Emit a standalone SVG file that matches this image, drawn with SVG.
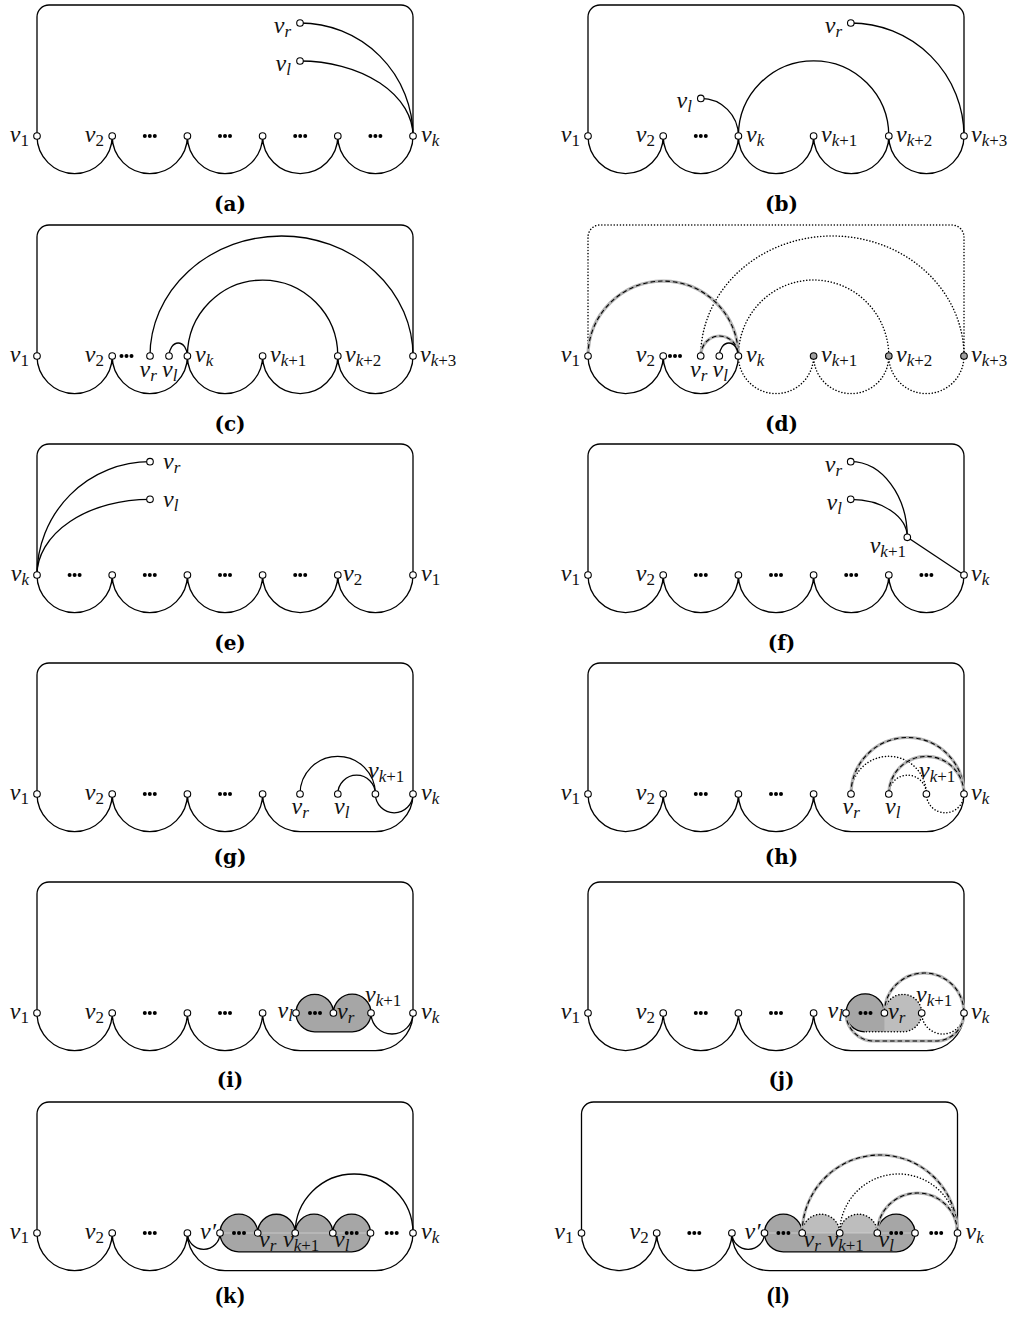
<svg xmlns="http://www.w3.org/2000/svg" width="1016" height="1319" viewBox="0 0 1016 1319">
<style>
.e{fill:none;stroke:#000;stroke-width:1.3}
.d{fill:none;stroke:#000;stroke-width:1.5;stroke-dasharray:0.1 3;stroke-linecap:round}
.gb{fill:none;stroke:#b2b2b2;stroke-width:3.2}
.gd{fill:none;stroke:#000;stroke-width:1.1;stroke-dasharray:4.5 3}
.n{fill:#fff;stroke:#000;stroke-width:1.1}
.ng{fill:#a0a0a0;stroke:#000;stroke-width:1.1}
.t{font-family:"Liberation Serif",serif;font-style:italic;font-size:24px;fill:#111}
.s{font-size:17px}
.u{font-style:normal}
.cap{font-family:"DejaVu Serif",serif;font-weight:bold;font-size:20px;text-anchor:middle}
.cap2{font-family:"Liberation Serif",serif;font-weight:bold;font-size:24px;text-anchor:middle}
.dk{fill:#a6a6a6;stroke:none}
.lt{fill:#bdbdbd;stroke:none}
</style>
<defs>
<g id="dots"><circle cx="-5" cy="0" r="2"/><circle cx="0" cy="0" r="2"/><circle cx="5" cy="0" r="2"/></g>
</defs>
<rect width="1016" height="1319" fill="#fff"/>

<!-- (a) -->
<g id="panel-a">
<g id="a-edges" class="e">
<path d="M37,136V17A12,12 0 0 1 49,5H401A12,12 0 0 1 413,17V136"/>
<path d="M37,136A37.6,37.6 0 0 0 112.2,136A37.6,37.6 0 0 0 187.4,136A37.6,37.6 0 0 0 262.6,136A37.6,37.6 0 0 0 337.8,136A37.6,37.6 0 0 0 413,136"/>
<path d="M300,23A113,113 0 0 1 413,136"/>
<path d="M300,61A113,75 0 0 1 413,136"/>
</g>
<g id="a-dots"><use href="#dots" x="149.8" y="136"/><use href="#dots" x="225" y="136"/><use href="#dots" x="300.2" y="136"/><use href="#dots" x="375.4" y="136"/></g>
<g id="a-v1"><circle class="n" cx="37" cy="136" r="3.3"/><text class="t" x="29" y="142" text-anchor="end">v<tspan class="s u" dy="4">1</tspan></text></g>
<g id="a-v2"><circle class="n" cx="112.2" cy="136" r="3.3"/><text class="t" x="104" y="142" text-anchor="end">v<tspan class="s u" dy="4">2</tspan></text></g>
<g id="a-n3"><circle class="n" cx="187.4" cy="136" r="3.3"/></g>
<g id="a-n4"><circle class="n" cx="262.6" cy="136" r="3.3"/></g>
<g id="a-n5"><circle class="n" cx="337.8" cy="136" r="3.3"/></g>
<g id="a-vk"><circle class="n" cx="413" cy="136" r="3.3"/><text class="t" x="421" y="142">v<tspan class="s" dy="4">k</tspan></text></g>
<g id="a-vr"><circle class="n" cx="300" cy="23" r="3.3"/><text class="t" x="291" y="33" text-anchor="end">v<tspan class="s" dy="4">r</tspan></text></g>
<g id="a-vl"><circle class="n" cx="300" cy="61" r="3.3"/><text class="t" x="291" y="71" text-anchor="end">v<tspan class="s" dy="4">l</tspan></text></g>
<text class="cap" x="230" y="211">(a)</text>
</g>

<!-- (b) -->
<g id="panel-b">
<g id="b-edges" class="e">
<path d="M588,136V17A12,12 0 0 1 600,5H952A12,12 0 0 1 964,17V136"/>
<path d="M588,136A37.6,37.6 0 0 0 663.2,136A37.6,37.6 0 0 0 738.4,136A37.6,37.6 0 0 0 813.6,136A37.6,37.6 0 0 0 888.8,136A37.6,37.6 0 0 0 964,136"/>
<path d="M738.4,136A75.2,75.2 0 0 1 888.8,136"/>
<path d="M700.8,98.4A37.6,37.6 0 0 1 738.4,136"/>
<path d="M850.8,23A113.2,113 0 0 1 964,136"/>
</g>
<g id="b-dots"><use href="#dots" x="700.8" y="136"/></g>
<g id="b-v1"><circle class="n" cx="588" cy="136" r="3.3"/><text class="t" x="580" y="142" text-anchor="end">v<tspan class="s u" dy="4">1</tspan></text></g>
<g id="b-v2"><circle class="n" cx="663.2" cy="136" r="3.3"/><text class="t" x="655" y="142" text-anchor="end">v<tspan class="s u" dy="4">2</tspan></text></g>
<g id="b-vk"><circle class="n" cx="738.4" cy="136" r="3.3"/><text class="t" x="746" y="142">v<tspan class="s" dy="4">k</tspan></text></g>
<g id="b-vk1"><circle class="n" cx="813.6" cy="136" r="3.3"/><text class="t" x="821" y="142">v<tspan class="s" dy="4">k</tspan><tspan class="s u">+1</tspan></text></g>
<g id="b-vk2"><circle class="n" cx="888.8" cy="136" r="3.3"/><text class="t" x="896" y="142">v<tspan class="s" dy="4">k</tspan><tspan class="s u">+2</tspan></text></g>
<g id="b-vk3"><circle class="n" cx="964" cy="136" r="3.3"/><text class="t" x="971" y="142">v<tspan class="s" dy="4">k</tspan><tspan class="s u">+3</tspan></text></g>
<g id="b-vl"><circle class="n" cx="700.8" cy="98.4" r="3.3"/><text class="t" x="692" y="108" text-anchor="end">v<tspan class="s" dy="4">l</tspan></text></g>
<g id="b-vr"><circle class="n" cx="850.8" cy="23" r="3.3"/><text class="t" x="842" y="33" text-anchor="end">v<tspan class="s" dy="4">r</tspan></text></g>
<text class="cap" x="781.5" y="211">(b)</text>
</g>

<!-- (c) -->
<g id="panel-c">
<g id="c-edges" class="e">
<path d="M37,356V237A12,12 0 0 1 49,225H401A12,12 0 0 1 413,237V356"/>
<path d="M37,356A37.6,37.6 0 0 0 112.2,356A37.6,37.6 0 0 0 187.4,356A37.6,37.6 0 0 0 262.6,356A37.6,37.6 0 0 0 337.8,356A37.6,37.6 0 0 0 413,356"/>
<path d="M150,356A131.5,120 0 0 1 413,356"/>
<path d="M187.4,356A75.2,76 0 0 1 337.8,356"/>
<path d="M169,356A9.2,13 0 0 1 187.4,356"/>
</g>
<g id="c-dots"><use href="#dots" x="126.5" y="356"/></g>
<g id="c-v1"><circle class="n" cx="37" cy="356" r="3.3"/><text class="t" x="29" y="362" text-anchor="end">v<tspan class="s u" dy="4">1</tspan></text></g>
<g id="c-v2"><circle class="n" cx="112.2" cy="356" r="3.3"/><text class="t" x="104" y="362" text-anchor="end">v<tspan class="s u" dy="4">2</tspan></text></g>
<g id="c-vr"><circle class="n" cx="150" cy="356" r="3.3"/><text class="t" x="139.5" y="377">v<tspan class="s" dy="4">r</tspan></text></g>
<g id="c-vl"><circle class="n" cx="169" cy="356" r="3.3"/><text class="t" x="162" y="377">v<tspan class="s" dy="4">l</tspan></text></g>
<g id="c-vk"><circle class="n" cx="187.4" cy="356" r="3.3"/><text class="t" x="195" y="362">v<tspan class="s" dy="4">k</tspan></text></g>
<g id="c-vk1"><circle class="n" cx="262.6" cy="356" r="3.3"/><text class="t" x="270" y="362">v<tspan class="s" dy="4">k</tspan><tspan class="s u">+1</tspan></text></g>
<g id="c-vk2"><circle class="n" cx="337.8" cy="356" r="3.3"/><text class="t" x="345" y="362">v<tspan class="s" dy="4">k</tspan><tspan class="s u">+2</tspan></text></g>
<g id="c-vk3"><circle class="n" cx="413" cy="356" r="3.3"/><text class="t" x="420" y="362">v<tspan class="s" dy="4">k</tspan><tspan class="s u">+3</tspan></text></g>
<text class="cap" x="230" y="431">(c)</text>
</g>

<!-- (d) -->
<g id="panel-d">
<g id="d-edges">
<path class="d" d="M588,356V237A12,12 0 0 1 600,225H952A12,12 0 0 1 964,237V356"/>
<path class="e" d="M588,356A37.6,37.6 0 0 0 663.2,356A37.6,37.6 0 0 0 738.4,356"/>
<path class="d" d="M738.4,356A37.6,37.6 0 0 0 813.6,356A37.6,37.6 0 0 0 888.8,356A37.6,37.6 0 0 0 964,356"/>
<path class="d" d="M700.7,356A131.65,120 0 0 1 964,356"/>
<path class="d" d="M738.4,356A75.2,76 0 0 1 888.8,356"/>
<path class="gb" d="M588,356A75.2,75 0 0 1 738.4,356"/>
<path class="gd" d="M588,356A75.2,75 0 0 1 738.4,356"/>
<path class="gb" d="M700.7,356A18.85,20 0 0 1 738.4,356"/>
<path class="gd" d="M700.7,356A18.85,20 0 0 1 738.4,356"/>
<path class="e" d="M719.3,356A9.55,13 0 0 1 738.4,356"/>
</g>
<g id="d-dots"><use href="#dots" x="675" y="356"/></g>
<g id="d-v1"><circle class="n" cx="588" cy="356" r="3.3"/><text class="t" x="580" y="362" text-anchor="end">v<tspan class="s u" dy="4">1</tspan></text></g>
<g id="d-v2"><circle class="n" cx="663.2" cy="356" r="3.3"/><text class="t" x="655" y="362" text-anchor="end">v<tspan class="s u" dy="4">2</tspan></text></g>
<g id="d-vr"><circle class="n" cx="700.7" cy="356" r="3.3"/><text class="t" x="690" y="377">v<tspan class="s" dy="4">r</tspan></text></g>
<g id="d-vl"><circle class="n" cx="719.3" cy="356" r="3.3"/><text class="t" x="712.5" y="377">v<tspan class="s" dy="4">l</tspan></text></g>
<g id="d-vk"><circle class="n" cx="738.4" cy="356" r="3.3"/><text class="t" x="746" y="362">v<tspan class="s" dy="4">k</tspan></text></g>
<g id="d-vk1"><circle class="ng" cx="813.6" cy="356" r="3.3"/><text class="t" x="821" y="362">v<tspan class="s" dy="4">k</tspan><tspan class="s u">+1</tspan></text></g>
<g id="d-vk2"><circle class="ng" cx="888.8" cy="356" r="3.3"/><text class="t" x="896" y="362">v<tspan class="s" dy="4">k</tspan><tspan class="s u">+2</tspan></text></g>
<g id="d-vk3"><circle class="ng" cx="964" cy="356" r="3.3"/><text class="t" x="971" y="362">v<tspan class="s" dy="4">k</tspan><tspan class="s u">+3</tspan></text></g>
<text class="cap" x="781.5" y="431">(d)</text>
</g>

<!-- (e) -->
<g id="panel-e">
<g id="e-edges" class="e">
<path d="M37,575V456A12,12 0 0 1 49,444H401A12,12 0 0 1 413,456V575"/>
<path d="M37,575A37.6,37.6 0 0 0 112.2,575A37.6,37.6 0 0 0 187.4,575A37.6,37.6 0 0 0 262.6,575A37.6,37.6 0 0 0 337.8,575A37.6,37.6 0 0 0 413,575"/>
<path d="M37,575A113,113.3 0 0 1 150,461.7"/>
<path d="M37,575A113,75.7 0 0 1 150,499.3"/>
</g>
<g id="e-dots"><use href="#dots" x="74.6" y="575"/><use href="#dots" x="149.8" y="575"/><use href="#dots" x="225" y="575"/><use href="#dots" x="300.2" y="575"/></g>
<g id="e-vk"><circle class="n" cx="37" cy="575" r="3.3"/><text class="t" x="29" y="581" text-anchor="end">v<tspan class="s" dy="4">k</tspan></text></g>
<g id="e-n2"><circle class="n" cx="112.2" cy="575" r="3.3"/></g>
<g id="e-n3"><circle class="n" cx="187.4" cy="575" r="3.3"/></g>
<g id="e-n4"><circle class="n" cx="262.6" cy="575" r="3.3"/></g>
<g id="e-v2"><circle class="n" cx="337.8" cy="575" r="3.3"/><text class="t" x="343" y="581">v<tspan class="s u" dy="4">2</tspan></text></g>
<g id="e-v1"><circle class="n" cx="413" cy="575" r="3.3"/><text class="t" x="421" y="581">v<tspan class="s u" dy="4">1</tspan></text></g>
<g id="e-vr"><circle class="n" cx="150" cy="461.7" r="3.3"/><text class="t" x="163" y="469">v<tspan class="s" dy="4">r</tspan></text></g>
<g id="e-vl"><circle class="n" cx="150" cy="499.3" r="3.3"/><text class="t" x="163" y="507">v<tspan class="s" dy="4">l</tspan></text></g>
<text class="cap" x="230" y="650">(e)</text>
</g>

<!-- (f) -->
<g id="panel-f">
<g id="f-edges" class="e">
<path d="M588,575V456A12,12 0 0 1 600,444H952A12,12 0 0 1 964,456V575"/>
<path d="M588,575A37.6,37.6 0 0 0 663.2,575A37.6,37.6 0 0 0 738.4,575A37.6,37.6 0 0 0 813.6,575A37.6,37.6 0 0 0 888.8,575A37.6,37.6 0 0 0 964,575"/>
<path d="M850.7,461.7A56.6,75.6 0 0 1 907.3,537.3"/>
<path d="M850.7,499.3A56.6,38 0 0 1 907.3,537.3"/>
<path d="M907.3,537.3L964,575"/>
</g>
<g id="f-dots"><use href="#dots" x="700.8" y="575"/><use href="#dots" x="776" y="575"/><use href="#dots" x="851.2" y="575"/><use href="#dots" x="926.4" y="575"/></g>
<g id="f-v1"><circle class="n" cx="588" cy="575" r="3.3"/><text class="t" x="580" y="581" text-anchor="end">v<tspan class="s u" dy="4">1</tspan></text></g>
<g id="f-v2"><circle class="n" cx="663.2" cy="575" r="3.3"/><text class="t" x="655" y="581" text-anchor="end">v<tspan class="s u" dy="4">2</tspan></text></g>
<g id="f-n3"><circle class="n" cx="738.4" cy="575" r="3.3"/></g>
<g id="f-n4"><circle class="n" cx="813.6" cy="575" r="3.3"/></g>
<g id="f-n5"><circle class="n" cx="888.8" cy="575" r="3.3"/></g>
<g id="f-vk"><circle class="n" cx="964" cy="575" r="3.3"/><text class="t" x="971" y="581">v<tspan class="s" dy="4">k</tspan></text></g>
<g id="f-vr"><circle class="n" cx="850.7" cy="461.7" r="3.3"/><text class="t" x="842" y="472" text-anchor="end">v<tspan class="s" dy="4">r</tspan></text></g>
<g id="f-vl"><circle class="n" cx="850.7" cy="499.3" r="3.3"/><text class="t" x="842" y="510" text-anchor="end">v<tspan class="s" dy="4">l</tspan></text></g>
<g id="f-vk1"><circle class="n" cx="907.3" cy="537.3" r="3.3"/><text class="t" x="906" y="553" text-anchor="end">v<tspan class="s" dy="4">k</tspan><tspan class="s u">+1</tspan></text></g>
<text class="cap" x="781.5" y="650">(f)</text>
</g>

<!-- (g) -->
<g id="panel-g">
<g id="g-edges" class="e">
<path d="M37,794V675A12,12 0 0 1 49,663H401A12,12 0 0 1 413,675V794"/>
<path d="M37,794A37.6,37.6 0 0 0 112.2,794A37.6,37.6 0 0 0 187.4,794A37.6,37.6 0 0 0 262.6,794A37.6,37.6 0 0 0 300.2,831.6H375.4A37.6,37.6 0 0 0 413,794"/>
<path d="M375.4,794A18.8,18.8 0 0 0 413,794"/>
<path d="M300,794A37.7,37.7 0 0 1 375.4,794"/>
<path d="M337.8,794A18.8,18.8 0 0 1 375.4,794"/>
</g>
<g id="g-dots"><use href="#dots" x="149.8" y="794"/><use href="#dots" x="225" y="794"/></g>
<g id="g-v1"><circle class="n" cx="37" cy="794" r="3.3"/><text class="t" x="29" y="800" text-anchor="end">v<tspan class="s u" dy="4">1</tspan></text></g>
<g id="g-v2"><circle class="n" cx="112.2" cy="794" r="3.3"/><text class="t" x="104" y="800" text-anchor="end">v<tspan class="s u" dy="4">2</tspan></text></g>
<g id="g-n3"><circle class="n" cx="187.4" cy="794" r="3.3"/></g>
<g id="g-n4"><circle class="n" cx="262.6" cy="794" r="3.3"/></g>
<g id="g-vr"><circle class="n" cx="300" cy="794" r="3.3"/><text class="t" x="291.5" y="814">v<tspan class="s" dy="4">r</tspan></text></g>
<g id="g-vl"><circle class="n" cx="337.8" cy="794" r="3.3"/><text class="t" x="334" y="814">v<tspan class="s" dy="4">l</tspan></text></g>
<g id="g-vk1"><circle class="n" cx="375.4" cy="794" r="3.3"/><text class="t" x="368" y="778">v<tspan class="s" dy="4">k</tspan><tspan class="s u">+1</tspan></text></g>
<g id="g-vk"><circle class="n" cx="413" cy="794" r="3.3"/><text class="t" x="421" y="800">v<tspan class="s" dy="4">k</tspan></text></g>
<text class="cap" x="230" y="864">(g)</text>
</g>

<!-- (h) -->
<g id="panel-h">
<g id="h-edges">
<path class="e" d="M588,794V675A12,12 0 0 1 600,663H952A12,12 0 0 1 964,675V794"/>
<path class="e" d="M588,794A37.6,37.6 0 0 0 663.2,794A37.6,37.6 0 0 0 738.4,794A37.6,37.6 0 0 0 813.6,794A37.6,37.6 0 0 0 851.2,831.6H926.4A37.6,37.6 0 0 0 964,794"/>
<path class="d" d="M926.4,794A18.8,18.8 0 0 0 964,794"/>
<path class="d" d="M851,794A37.7,37.7 0 0 1 926.4,794"/>
<path class="d" d="M888.8,794A18.8,18.8 0 0 1 926.4,794"/>
<path class="gb" d="M851,794A56.5,56.5 0 0 1 964,794"/>
<path class="gd" d="M851,794A56.5,56.5 0 0 1 964,794"/>
<path class="gb" d="M888.8,794A37.6,37.6 0 0 1 964,794"/>
<path class="gd" d="M888.8,794A37.6,37.6 0 0 1 964,794"/>
</g>
<g id="h-dots"><use href="#dots" x="700.8" y="794"/><use href="#dots" x="776" y="794"/></g>
<g id="h-v1"><circle class="n" cx="588" cy="794" r="3.3"/><text class="t" x="580" y="800" text-anchor="end">v<tspan class="s u" dy="4">1</tspan></text></g>
<g id="h-v2"><circle class="n" cx="663.2" cy="794" r="3.3"/><text class="t" x="655" y="800" text-anchor="end">v<tspan class="s u" dy="4">2</tspan></text></g>
<g id="h-n3"><circle class="n" cx="738.4" cy="794" r="3.3"/></g>
<g id="h-n4"><circle class="n" cx="813.6" cy="794" r="3.3"/></g>
<g id="h-vr"><circle class="n" cx="851" cy="794" r="3.3"/><text class="t" x="842.5" y="814">v<tspan class="s" dy="4">r</tspan></text></g>
<g id="h-vl"><circle class="n" cx="888.8" cy="794" r="3.3"/><text class="t" x="885" y="814">v<tspan class="s" dy="4">l</tspan></text></g>
<g id="h-vk1"><circle class="n" cx="926.4" cy="794" r="3.3"/><text class="t" x="919" y="778">v<tspan class="s" dy="4">k</tspan><tspan class="s u">+1</tspan></text></g>
<g id="h-vk"><circle class="n" cx="964" cy="794" r="3.3"/><text class="t" x="971" y="800">v<tspan class="s" dy="4">k</tspan></text></g>
<text class="cap" x="781.5" y="864">(h)</text>
</g>

<!-- (i) -->
<g id="panel-i">
<g id="i-block">
<path class="dk" d="M296,1013A18.7,18.7 0 0 1 333.4,1013A18.8,18.8 0 0 1 371,1013A18.8,18.8 0 0 1 352.2,1031.8H314.7A18.7,18.7 0 0 1 296,1013Z"/>
<path class="e" d="M296,1013A18.7,18.7 0 0 1 333.4,1013A18.8,18.8 0 0 1 371,1013A18.8,18.8 0 0 1 352.2,1031.8H314.7A18.7,18.7 0 0 1 296,1013Z"/>
</g>
<g id="i-edges" class="e">
<path d="M37,1013V894A12,12 0 0 1 49,882H401A12,12 0 0 1 413,894V1013"/>
<path d="M37,1013A37.6,37.6 0 0 0 112.2,1013A37.6,37.6 0 0 0 187.4,1013A37.6,37.6 0 0 0 262.6,1013A37.6,37.6 0 0 0 300.2,1050.6H375.4A37.6,37.6 0 0 0 413,1013"/>
<path d="M371,1013A21,21 0 0 0 413,1013"/>
</g>
<g id="i-dots"><use href="#dots" x="149.8" y="1013"/><use href="#dots" x="225" y="1013"/><use href="#dots" x="315" y="1013"/></g>
<g id="i-v1"><circle class="n" cx="37" cy="1013" r="3.3"/><text class="t" x="29" y="1019" text-anchor="end">v<tspan class="s u" dy="4">1</tspan></text></g>
<g id="i-v2"><circle class="n" cx="112.2" cy="1013" r="3.3"/><text class="t" x="104" y="1019" text-anchor="end">v<tspan class="s u" dy="4">2</tspan></text></g>
<g id="i-n3"><circle class="n" cx="187.4" cy="1013" r="3.3"/></g>
<g id="i-n4"><circle class="n" cx="262.6" cy="1013" r="3.3"/></g>
<g id="i-vl"><circle class="n" cx="296" cy="1013" r="3.3"/><text class="t" x="293" y="1018" text-anchor="end">v<tspan class="s" dy="3">l</tspan></text></g>
<g id="i-vr"><circle class="n" cx="333.4" cy="1013" r="3.3"/><text class="t" x="337" y="1019">v<tspan class="s" dy="4">r</tspan></text></g>
<g id="i-vk1"><circle class="n" cx="371" cy="1013" r="3.3"/><text class="t" x="365" y="1002">v<tspan class="s" dy="4">k</tspan><tspan class="s u">+1</tspan></text></g>
<g id="i-vk"><circle class="n" cx="413" cy="1013" r="3.3"/><text class="t" x="421" y="1019">v<tspan class="s" dy="4">k</tspan></text></g>
<text class="cap" x="230" y="1087">(i)</text>
</g>

<!-- (j) -->
<g id="panel-j">
<g id="j-block">
<path class="lt" d="M846,1013A19.2,19.2 0 0 1 884.4,1013A18.65,18.65 0 0 1 921.7,1013A18.8,18.8 0 0 1 902.9,1031.8H864.8A18.8,18.8 0 0 1 846,1013Z"/>
<path class="dk" d="M846,1013A19.2,19.2 0 0 1 884.4,1013V1031.8H864.8A18.8,18.8 0 0 1 846,1013Z"/>
<path class="e" d="M864.8,1031.8A18.8,18.8 0 0 1 846,1013A19.2,19.2 0 0 1 884.4,1013"/>
<path class="d" d="M884.4,1013A18.65,18.65 0 0 1 921.7,1013A18.8,18.8 0 0 1 902.9,1031.8H864.8"/>
</g>
<g id="j-edges">
<path class="e" d="M588,1013V894A12,12 0 0 1 600,882H952A12,12 0 0 1 964,894V1013"/>
<path class="e" d="M588,1013A37.6,37.6 0 0 0 663.2,1013A37.6,37.6 0 0 0 738.4,1013A37.6,37.6 0 0 0 813.6,1013A37.6,37.6 0 0 0 851.2,1050.6H926.4A37.6,37.6 0 0 0 964,1013"/>
<path class="d" d="M921.7,1013A21.15,21 0 0 0 964,1013"/>
<path class="gb" d="M884.4,1013A39.8,40 0 0 1 964,1013"/>
<path class="gd" d="M884.4,1013A39.8,40 0 0 1 964,1013"/>
<path class="gb" d="M846,1013A28,28 0 0 0 874,1041H936A28,28 0 0 0 964,1013"/>
<path class="gd" d="M846,1013A28,28 0 0 0 874,1041H936A28,28 0 0 0 964,1013"/>
</g>
<g id="j-dots"><use href="#dots" x="700.8" y="1013"/><use href="#dots" x="776" y="1013"/><use href="#dots" x="865.5" y="1013"/></g>
<g id="j-v1"><circle class="n" cx="588" cy="1013" r="3.3"/><text class="t" x="580" y="1019" text-anchor="end">v<tspan class="s u" dy="4">1</tspan></text></g>
<g id="j-v2"><circle class="n" cx="663.2" cy="1013" r="3.3"/><text class="t" x="655" y="1019" text-anchor="end">v<tspan class="s u" dy="4">2</tspan></text></g>
<g id="j-n3"><circle class="n" cx="738.4" cy="1013" r="3.3"/></g>
<g id="j-n4"><circle class="n" cx="813.6" cy="1013" r="3.3"/></g>
<g id="j-vl"><circle class="n" cx="846" cy="1013" r="3.3"/><text class="t" x="843" y="1018" text-anchor="end">v<tspan class="s" dy="3">l</tspan></text></g>
<g id="j-vr"><circle class="n" cx="884.4" cy="1013" r="3.3"/><text class="t" x="888" y="1019">v<tspan class="s" dy="4">r</tspan></text></g>
<g id="j-vk1"><circle class="n" cx="921.7" cy="1013" r="3.3"/><text class="t" x="916" y="1002">v<tspan class="s" dy="4">k</tspan><tspan class="s u">+1</tspan></text></g>
<g id="j-vk"><circle class="n" cx="964" cy="1013" r="3.3"/><text class="t" x="971" y="1019">v<tspan class="s" dy="4">k</tspan></text></g>
<text class="cap" x="781.5" y="1087">(j)</text>
</g>

<!-- (k) -->
<g id="panel-k">
<g id="k-block">
<path class="dk" d="M220,1233A18.85,18.85 0 0 1 257.7,1233A18.75,18.75 0 0 1 295.2,1233A18.8,18.8 0 0 1 332.8,1233A18.85,18.85 0 0 1 370.5,1233A18.8,18.8 0 0 1 351.7,1251.8H238.8A18.8,18.8 0 0 1 220,1233Z"/>
<path d="M220,1233H370.5" stroke="#d2d2d2" stroke-width="0.8"/>
<path class="e" d="M220,1233A18.85,18.85 0 0 1 257.7,1233A18.75,18.75 0 0 1 295.2,1233A18.8,18.8 0 0 1 332.8,1233A18.85,18.85 0 0 1 370.5,1233A18.8,18.8 0 0 1 351.7,1251.8H238.8A18.8,18.8 0 0 1 220,1233Z"/>
</g>
<g id="k-edges" class="e">
<path d="M37,1233V1114A12,12 0 0 1 49,1102H401A12,12 0 0 1 413,1114V1233"/>
<path d="M37,1233A37.6,37.6 0 0 0 112.2,1233A37.6,37.6 0 0 0 187.4,1233A37.6,37.6 0 0 0 225,1270.6H375.4A37.6,37.6 0 0 0 413,1233"/>
<path d="M187.4,1233A16.3,16.3 0 0 0 220,1233"/>
<path d="M295.2,1233A58.9,59 0 0 1 413,1233"/>
</g>
<g id="k-dots"><use href="#dots" x="149.8" y="1233"/><use href="#dots" x="239" y="1233"/><use href="#dots" x="351.7" y="1233"/><use href="#dots" x="391.7" y="1233"/></g>
<g id="k-v1"><circle class="n" cx="37" cy="1233" r="3.3"/><text class="t" x="29" y="1239" text-anchor="end">v<tspan class="s u" dy="4">1</tspan></text></g>
<g id="k-v2"><circle class="n" cx="112.2" cy="1233" r="3.3"/><text class="t" x="104" y="1239" text-anchor="end">v<tspan class="s u" dy="4">2</tspan></text></g>
<g id="k-n3"><circle class="n" cx="187.4" cy="1233" r="3.3"/></g>
<g id="k-vp"><circle class="n" cx="220" cy="1233" r="3.3"/><text class="t" x="216" y="1239" text-anchor="end">v′</text></g>
<g id="k-vr"><circle class="n" cx="257.7" cy="1233" r="3.3"/><text class="t" x="259" y="1247">v<tspan class="s" dy="4">r</tspan></text></g>
<g id="k-vk1"><circle class="n" cx="295.2" cy="1233" r="3.3"/><text class="t" x="283" y="1247">v<tspan class="s" dy="4">k</tspan><tspan class="s u">+1</tspan></text></g>
<g id="k-vl"><circle class="n" cx="332.8" cy="1233" r="3.3"/><text class="t" x="334" y="1247">v<tspan class="s" dy="4">l</tspan></text></g>
<g id="k-n8"><circle class="n" cx="370.5" cy="1233" r="3.3"/></g>
<g id="k-vk"><circle class="n" cx="413" cy="1233" r="3.3"/><text class="t" x="421" y="1239">v<tspan class="s" dy="4">k</tspan></text></g>
<text class="cap2" x="230" y="1303">(k)</text>
</g>

<!-- (l) -->
<g id="panel-l">
<g id="l-block">
<path class="dk" d="M764.5,1233A18.85,18.85 0 0 1 802.2,1233A18.75,18.75 0 0 1 839.7,1233A18.8,18.8 0 0 1 877.3,1233A18.85,18.85 0 0 1 915,1233A18.8,18.8 0 0 1 896.2,1251.8H783.3A18.8,18.8 0 0 1 764.5,1233Z"/>
<path class="lt" d="M802.2,1233A18.75,18.75 0 0 1 839.7,1233A18.8,18.8 0 0 1 877.3,1233Z"/>
<path d="M764.5,1233H915" stroke="#d2d2d2" stroke-width="0.8"/>
<path class="e" d="M802.2,1233A18.85,18.85 0 0 0 764.5,1233A18.8,18.8 0 0 0 783.3,1251.8H896.2A18.8,18.8 0 0 0 915,1233A18.85,18.85 0 0 0 877.3,1233"/>
<path class="d" d="M802.2,1233A18.75,18.75 0 0 1 839.7,1233A18.8,18.8 0 0 1 877.3,1233"/>
</g>
<g id="l-edges">
<path class="e" d="M581.5,1233V1114A12,12 0 0 1 593.5,1102H945.5A12,12 0 0 1 957.5,1114V1233"/>
<path class="e" d="M581.5,1233A37.6,37.6 0 0 0 656.7,1233A37.6,37.6 0 0 0 731.9,1233A37.6,37.6 0 0 0 769.5,1270.6H919.9A37.6,37.6 0 0 0 957.5,1233"/>
<path class="e" d="M731.9,1233A16.3,16.3 0 0 0 764.5,1233"/>
<path class="d" d="M839.7,1233A58.9,59 0 0 1 957.5,1233"/>
<path class="gb" d="M802.2,1233A77.65,78 0 0 1 957.5,1233"/>
<path class="gd" d="M802.2,1233A77.65,78 0 0 1 957.5,1233"/>
<path class="gb" d="M877.3,1233A40.1,40 0 0 1 957.5,1233"/>
<path class="gd" d="M877.3,1233A40.1,40 0 0 1 957.5,1233"/>
</g>
<g id="l-dots"><use href="#dots" x="694.3" y="1233"/><use href="#dots" x="783.4" y="1233"/><use href="#dots" x="896.2" y="1233"/><use href="#dots" x="936.2" y="1233"/></g>
<g id="l-v1"><circle class="n" cx="581.5" cy="1233" r="3.3"/><text class="t" x="573.5" y="1239" text-anchor="end">v<tspan class="s u" dy="4">1</tspan></text></g>
<g id="l-v2"><circle class="n" cx="656.7" cy="1233" r="3.3"/><text class="t" x="648.7" y="1239" text-anchor="end">v<tspan class="s u" dy="4">2</tspan></text></g>
<g id="l-n3"><circle class="n" cx="731.9" cy="1233" r="3.3"/></g>
<g id="l-vp"><circle class="n" cx="764.5" cy="1233" r="3.3"/><text class="t" x="760.5" y="1239" text-anchor="end">v′</text></g>
<g id="l-vr"><circle class="n" cx="802.2" cy="1233" r="3.3"/><text class="t" x="803.5" y="1247">v<tspan class="s" dy="4">r</tspan></text></g>
<g id="l-vk1"><circle class="n" cx="839.7" cy="1233" r="3.3"/><text class="t" x="827.5" y="1247">v<tspan class="s" dy="4">k</tspan><tspan class="s u">+1</tspan></text></g>
<g id="l-vl"><circle class="n" cx="877.3" cy="1233" r="3.3"/><text class="t" x="878.5" y="1247">v<tspan class="s" dy="4">l</tspan></text></g>
<g id="l-n8"><circle class="n" cx="915" cy="1233" r="3.3"/></g>
<g id="l-vk"><circle class="n" cx="957.5" cy="1233" r="3.3"/><text class="t" x="965.5" y="1239">v<tspan class="s" dy="4">k</tspan></text></g>
<text class="cap2" x="778" y="1303">(l)</text>
</g>
</svg>
